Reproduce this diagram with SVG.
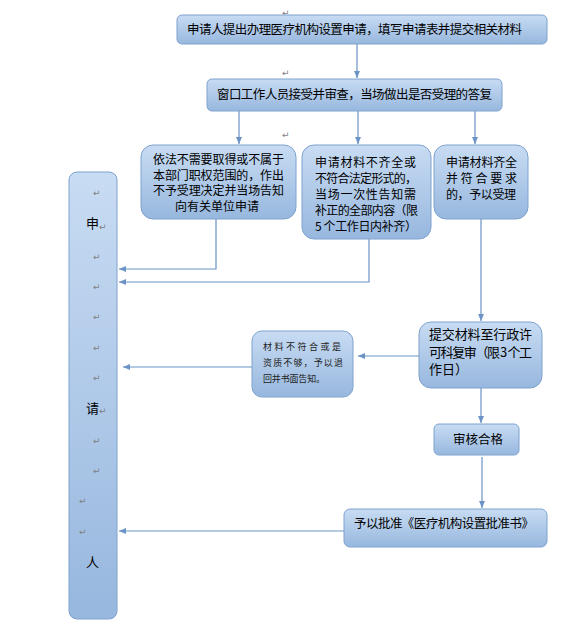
<svg xmlns="http://www.w3.org/2000/svg" width="573" height="633" viewBox="0 0 573 633">
<defs>
<linearGradient id="g" x1="0" y1="0" x2="0" y2="1">
<stop offset="0" stop-color="#c8dcf3"/>
<stop offset="1" stop-color="#97b7de"/>
</linearGradient>
<marker id="ah" markerWidth="8" markerHeight="8" refX="7" refY="4" orient="auto" markerUnits="userSpaceOnUse">
<path d="M0,1 L7,4 L0,7 Z" fill="#6b93c6"/>
</marker>
<style>
.box{fill:url(#g);stroke:#7ea2ce;stroke-width:1}
.t{font-family:"Noto Sans CJK SC","Noto Sans",sans-serif;font-size:12.5px;fill:#000}
.t12{font-size:12px}
.t13{font-size:13px}
.s{font-family:"Noto Sans CJK SC","Noto Sans",sans-serif;font-size:9px;fill:#222}
.pm{font-family:"DejaVu Sans",sans-serif;font-size:9px;fill:#808080}
.c{fill:none;stroke:#6b93c6;stroke-width:1.2}
.a{marker-end:url(#ah)}
</style>
</defs>
<rect width="573" height="633" fill="#fff"/>

<g id="marks">
<text class="pm" x="282" y="16">↵</text>
<text class="pm" x="282" y="76">↵</text>
<text class="pm" x="282" y="138">↵</text>
</g>

<g id="connectors">
<path class="c a" d="M357,44 V78"/>
<path class="c a" d="M239,111 V144"/>
<path class="c a" d="M358,111 V144"/>
<path class="c a" d="M475,111 V144"/>
<path class="c a" d="M216,219 V269 H119"/>
<path class="c a" d="M369,239 V282 H119"/>
<path class="c a" d="M481,219 V321"/>
<path class="c a" d="M419,356 H358"/>
<path class="c a" d="M252,367 H123"/>
<path class="c a" d="M481,388 V423"/>
<path class="c a" d="M482,457 V508"/>
<path class="c a" d="M344,531 H119"/>
</g>

<g id="n1">
<rect class="box" x="177" y="15" width="370" height="29" rx="5"/>
<text class="t" x="187" y="34" textLength="335">申请人提出办理医疗机构设置申请，填写申请表并提交相关材料</text>
</g>

<g id="n2">
<rect class="box" x="207" y="79" width="295" height="32" rx="5"/>
<text class="t" x="217" y="99" textLength="275">窗口工作人员接受并审查，当场做出是否受理的答复</text>
</g>

<g id="nA">
<rect class="box" x="141" y="145" width="155" height="74" rx="12"/>
<text class="t t12"><tspan x="153" y="164" textLength="131">依法不需要取得或不属于</tspan><tspan x="153" y="180" textLength="131">本部门职权范围的，作出</tspan><tspan x="153" y="195" textLength="131">不予受理决定并当场告知</tspan><tspan x="175" y="211">向有关单位申请</tspan></text>
</g>

<g id="nB">
<rect class="box" x="302" y="145" width="129" height="94" rx="12"/>
<text class="t t12"><tspan x="315" y="167" textLength="101">申请材料不齐全或</tspan><tspan x="315" y="183" textLength="102">不符合法定形式的，</tspan><tspan x="315" y="199" textLength="101">当场一次性告知需</tspan><tspan x="315" y="215" textLength="103">补正的全部内容（限</tspan><tspan x="315" y="231" textLength="102">5 个工作日内补齐）</tspan></text>
</g>

<g id="nC">
<rect class="box" x="434" y="145" width="94" height="74" rx="12"/>
<text class="t t12"><tspan x="446" y="167" textLength="71">申请材料齐全</tspan><tspan x="446" y="183" textLength="71">并 符 合 要 求</tspan><tspan x="446" y="199" textLength="70">的，予以受理</tspan></text>
</g>

<g id="nP">
<rect class="box" x="69" y="172" width="48" height="447" rx="8"/>
<text class="t t13" x="86" y="228">申</text>
<text class="t t13" x="86" y="413">请</text>
<text class="t t13" x="86" y="567">人</text>
<text class="pm" x="93" y="196">↵</text>
<text class="pm" x="99" y="230">↵</text>
<text class="pm" x="93" y="260">↵</text>
<text class="pm" x="93" y="290">↵</text>
<text class="pm" x="93" y="320">↵</text>
<text class="pm" x="93" y="351">↵</text>
<text class="pm" x="93" y="381">↵</text>
<text class="pm" x="99" y="414">↵</text>
<text class="pm" x="93" y="444">↵</text>
<text class="pm" x="93" y="474">↵</text>
<text class="pm" x="79" y="504">↵</text>
<text class="pm" x="79" y="535">↵</text>
</g>

<g id="nD">
<rect class="box" x="419" y="322" width="123" height="66" rx="12"/>
<text class="t t13"><tspan x="429" y="339" textLength="103">提交材料至行政许</tspan><tspan x="429" y="357" textLength="103">可科复审（限 3 个工</tspan><tspan x="429" y="374">作日）</tspan></text>
</g>

<g id="nE">
<rect class="box" x="252" y="331" width="101" height="66" rx="10"/>
<text class="s"><tspan x="263" y="350" textLength="78">材料不符合或是</tspan><tspan x="263" y="366" textLength="80">资质不够，予以退</tspan><tspan x="263" y="382" textLength="62">回并书面告知。</tspan></text>
</g>

<g id="nF">
<rect class="box" x="434" y="424" width="85" height="31" rx="5"/>
<text class="t" x="453" y="444" textLength="50">审核合格</text>
</g>

<g id="nG">
<rect class="box" x="344" y="509" width="203" height="38" rx="6"/>
<text class="t" x="354" y="528" textLength="180">予以批准《医疗机构设置批准书》</text>
</g>
</svg>
